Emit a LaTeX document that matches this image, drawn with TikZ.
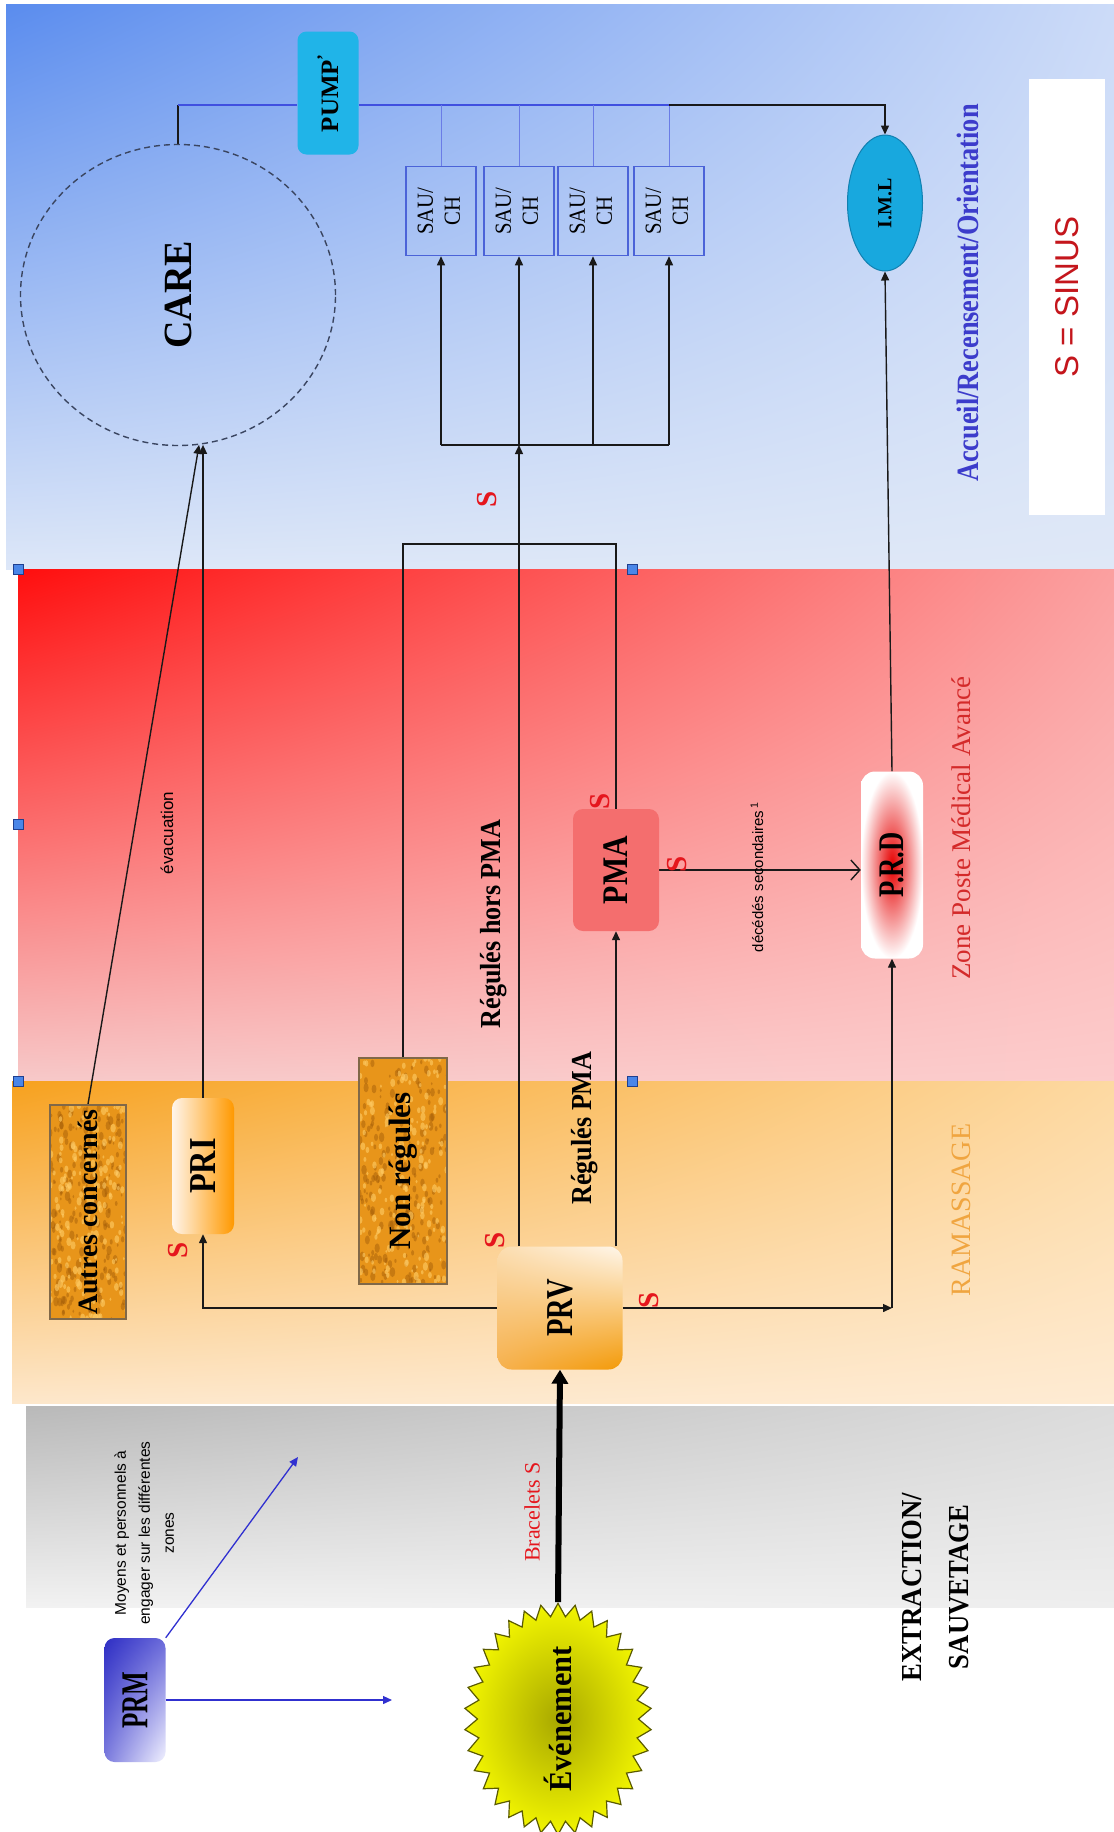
\documentclass[tikz,border=0pt]{standalone}
\usepackage{fontspec}
\setmainfont{Liberation Serif}
\setsansfont{Liberation Sans}
\usetikzlibrary{arrows.meta,shapes.geometric,shapes.symbols,calc,shadings}
\pgfdeclarelayer{bg}
\pgfdeclarelayer{deco}
\pgfdeclarelayer{edges}
\pgfsetlayers{bg,deco,edges,main}
\newcommand{\fsz}[1]{\fontsize{#1}{#1}\selectfont}
\newcommand{\rtx}[2][1]{\rotatebox{90}{\scalebox{#1}[1]{#2}}}
\newcommand{\texfill}[4]{%
  \begin{scope}
  \clip (#1,#2) rectangle (#3,#4);
  \fill[texOrange] (#1,#2) rectangle (#3,#4);
  \foreach \i in {1,...,190}{
    \pgfmathsetmacro{\px}{#1+rnd*(#3-#1)}
    \pgfmathsetmacro{\py}{#2+rnd*(#4-#2)}
    \pgfmathsetmacro{\rr}{1.5+3.5*rnd}
    \fill[texDark, opacity=0.45] (\px,\py) ellipse [x radius=0.55*\rr, y radius=\rr];
  }
  \foreach \i in {1,...,170}{
    \pgfmathsetmacro{\px}{#1+rnd*(#3-#1)}
    \pgfmathsetmacro{\py}{#2+rnd*(#4-#2)}
    \pgfmathsetmacro{\rr}{1.5+3*rnd}
    \fill[texLight, opacity=0.6] (\px,\py) ellipse [x radius=0.6*\rr, y radius=\rr];
  }
  \end{scope}}
\definecolor{blueUL}{HTML}{5A8CEE}
\definecolor{blueUR}{HTML}{CCDBF8}
\definecolor{blueLL}{HTML}{DDE7F8}
\definecolor{blueLR}{HTML}{DFE8F7}
\definecolor{redUL}{HTML}{FF0E0E}
\definecolor{redUR}{HTML}{FBA0A0}
\definecolor{redLL}{HTML}{F7C9C9}
\definecolor{redLR}{HTML}{FCCCCC}
\definecolor{oraUL}{HTML}{F7A11E}
\definecolor{oraUR}{HTML}{FDD9A2}
\definecolor{oraLL}{HTML}{FDE7CB}
\definecolor{oraLR}{HTML}{FEEBD3}
\definecolor{grayUL}{HTML}{B9B9B9}
\definecolor{grayUR}{HTML}{DCDCDC}
\definecolor{grayLL}{HTML}{F2F2F2}
\definecolor{grayLR}{HTML}{EEEEEE}
\definecolor{careGray}{HTML}{3A4560}
\definecolor{pumpCyan}{HTML}{20B4E8}
\definecolor{imlCyan}{HTML}{18A8DE}
\definecolor{imlEdge}{HTML}{1280B0}
\definecolor{sauBlue}{HTML}{4B63D8}
\definecolor{lineBlue}{HTML}{4050E0}
\definecolor{dropBlue}{HTML}{6A7CE6}
\definecolor{arrBlue}{HTML}{3030D0}
\definecolor{texOrange}{HTML}{E8951A}
\definecolor{texDark}{HTML}{A05A08}
\definecolor{texLight}{HTML}{FFCC66}
\definecolor{texBorder}{HTML}{806848}
\definecolor{pmaFill}{HTML}{F46E6E}
\definecolor{prdRed}{HTML}{E60000}
\definecolor{evtDark}{HTML}{A8A800}
\definecolor{evtYellow}{HTML}{F2F500}
\definecolor{evtEdge}{HTML}{5A5A00}
\definecolor{accBlue}{HTML}{3C3CCB}
\definecolor{zoneRed}{HTML}{D42A2A}
\definecolor{ramOrange}{HTML}{F0A540}
\definecolor{sRed}{HTML}{E5161D}
\definecolor{sinusRed}{HTML}{C4161C}
\definecolor{handleBlue}{HTML}{4A86E8}
\definecolor{handleDark}{HTML}{1F3F8F}
\definecolor{prvA}{HTML}{FBDDB0}
\definecolor{prvB}{HTML}{FFF6EA}
\definecolor{prvC}{HTML}{F6B14E}
\definecolor{prvD}{HTML}{F39A08}
\definecolor{prmA}{HTML}{2E2EC4}
\definecolor{prmB}{HTML}{6A6ADA}
\definecolor{prmC}{HTML}{7C7CDE}
\definecolor{prmD}{HTML}{F2F2FF}
\begin{document}
\pgfmathsetseed{7}
\begin{tikzpicture}[x=1pt,y=-1pt,
  conn/.style={draw=black!90, line width=1.4pt},
  arr/.style={conn, -{Triangle[length=9pt,width=8pt]}},
  blueline/.style={draw=lineBlue, line width=1.4pt},
  dropline/.style={draw=dropBlue, line width=1pt},
  bluearr/.style={draw=arrBlue, line width=1.3pt, -{Triangle[length=9pt,width=8pt]}},
  quad/.style n args={4}{shading=bilinear interpolation, upper left=#1, upper right=#2, lower left=#3, lower right=#4},
  sauBox/.style={draw=sauBlue, line width=1.5pt, minimum width=70pt, minimum height=89pt, inner sep=0pt, font=\fontsize{23}{27}\selectfont},
  sLabel/.style={text=sRed, font=\fsz{29}\bfseries, inner sep=0pt},
  handle/.style={draw=handleDark, fill=handleBlue, minimum size=10pt, inner sep=0pt, line width=0.8pt},
  texbox/.style 2 args={draw=texBorder, line width=1.6pt, minimum width=#1pt, minimum height=#2pt, inner sep=0pt}
]
\useasboundingbox (0,0) rectangle (1114,1832);
\begin{pgfonlayer}{bg}
  \fill[white] (0,0) rectangle (1114,1832);
  \shade[quad={blueUL}{blueUR}{blueLL}{blueLR}] (6,4) rectangle (1114,569);
  \shade[quad={redUL}{redUR}{redLL}{redLR}] (18,569) rectangle (1114,1081);
  \shade[quad={oraUL}{oraUR}{oraLL}{oraLR}] (12,1081) rectangle (1114,1403);
  \shade[quad={grayUL}{grayUR}{grayLL}{grayLR}] (26,1406) rectangle (1114,1607);
\end{pgfonlayer}
\begin{pgfonlayer}{deco}
  \texfill{50}{1105}{126}{1319}
  \texfill{359}{1058}{447}{1284}
\end{pgfonlayer}

% ---- nodes
\node[draw=careGray, dash pattern=on 6pt off 4pt, line width=1.4pt, ellipse, minimum width=315pt, minimum height=301pt, inner sep=0pt, font=\fsz{40}\bfseries] (CARE) at (178,295) {\rtx[0.95]{CARE}};
\node[fill=pumpCyan, rounded corners=9pt, minimum width=61pt, minimum height=123pt, inner sep=0pt, font=\fsz{25}\bfseries] (PUMP) at (328,93) {\rtx{PUMP\textsuperscript{’}}};
\node[sauBox] (sau1) at (441,211) {\rtx[0.9]{\begin{tabular}{@{}c@{}}SAU/\\CH\end{tabular}}};
\node[sauBox] (sau2) at (519,211) {\rtx[0.9]{\begin{tabular}{@{}c@{}}SAU/\\CH\end{tabular}}};
\node[sauBox] (sau3) at (593,211) {\rtx[0.9]{\begin{tabular}{@{}c@{}}SAU/\\CH\end{tabular}}};
\node[sauBox] (sau4) at (669,211) {\rtx[0.9]{\begin{tabular}{@{}c@{}}SAU/\\CH\end{tabular}}};
\node[ellipse, fill=imlCyan, draw=imlEdge, line width=1pt, minimum width=75pt, minimum height=136pt, inner sep=0pt, font=\fsz{20}\bfseries] (IML) at (885,203) {\rtx{I.M.L}};
\node[fill=white, minimum width=76pt, minimum height=436pt, inner sep=0pt, font=\sffamily\fsz{33}, text=sinusRed] (legend) at (1067,297) {\rtx{S = SINUS}};

\node[texbox={76}{214}, font=\fsz{28}\bfseries] (Autres) at (88,1212) {\rtx{Autres concernés}};
\node[rounded corners=10pt, left color=white!92!orange, right color=orange!80!yellow, minimum width=62pt, minimum height=136pt, inner sep=0pt, font=\fsz{38}\bfseries] (PRI) at (203,1166) {\rtx[0.85]{PRI}};
\node[texbox={88}{226}, font=\fsz{31}\bfseries] (Nonreg) at (403,1171) {\rtx{Non régulés}};
\node[rounded corners=14pt, quad={prvA}{prvB}{prvC}{prvD}, minimum width=125pt, minimum height=123pt, inner sep=0pt, font=\fsz{38}\bfseries] (PRV) at (560,1308) {\rtx[0.75]{PRV}};
\node[rounded corners=10pt, fill=pmaFill, minimum width=86pt, minimum height=122pt, inner sep=0pt, font=\fsz{36}\bfseries] (PMA) at (616,870) {\rtx[0.83]{PMA}};
\node[rounded corners=14pt, inner color=prdRed, outer color=white, minimum width=62pt, minimum height=187pt, inner sep=0pt, font=\fsz{36}\bfseries] (PRD) at (892,865) {\rtx[0.74]{P.R.D}};
\node[rounded corners=10pt, quad={prmA}{prmB}{prmC}{prmD}, minimum width=61pt, minimum height=124pt, inner sep=0pt, font=\fsz{38}\bfseries] (PRM) at (135,1700) {\rtx[0.66]{PRM}};
\node[starburst, starburst points=34, starburst point height=13pt, random starburst=0, draw=evtEdge, line width=1.2pt, inner color=evtDark, outer color=evtYellow, minimum width=187pt, minimum height=228pt, inner sep=0pt, font=\fsz{32}\bfseries] (Evt) at (558,1719) {\rtx[0.95]{Événement}};

% ---- selection handles
\node[handle] (h1) at (18,569) {};
\node[handle] (h2) at (18,824) {};
\node[handle] (h3) at (18,1081) {};
\node[handle] (h4) at (632,569) {};
\node[handle] (h5) at (632,1081) {};

% ---- S labels
\node[sLabel] (s1) at (487,499) {\rtx{S}};
\node[sLabel] (s2) at (600,801) {\rtx{S}};
\node[sLabel] (s3) at (677,864) {\rtx{S}};
\node[sLabel] (s4) at (178,1250) {\rtx{S}};
\node[sLabel] (s5) at (495,1240) {\rtx{S}};
\node[sLabel] (s6) at (649,1300) {\rtx{S}};

% ---- texts
\node[font=\fsz{31}\bfseries, text=accBlue] (tAcc) at (968,293) {\rtx[0.85]{Accueil/Recensement/Orientation}};
\node[font=\fsz{27}, text=zoneRed] (tZone) at (961,828) {\rtx{Zone Poste Médical Avancé}};
\node[font=\fsz{28}, text=ramOrange] (tRam) at (961,1210) {\rtx{RAMASSAGE}};
\node[font=\fontsize{29}{47}\selectfont\bfseries] (tExt) at (936,1587) {\rtx[0.92]{\begin{tabular}{@{}c@{}}EXTRACTION/\\SAUVETAGE\end{tabular}}};
\node[font=\fsz{29}\bfseries] (tRhp) at (494,924) {\rtx[0.9]{Régulés hors PMA}};
\node[font=\fsz{29}\bfseries] (tRp) at (585,1128) {\rtx[0.9]{Régulés PMA}};
\node[font=\sffamily\fsz{17}] (tEvac) at (167,833) {\rtx{évacuation}};
\node[font=\sffamily\fsz{15}] (tDec) at (757,877) {\rtx{décédés secondaires\,\textsuperscript{1}}};
\node[font=\sffamily\fontsize{15.5}{24}\selectfont] (tMoy) at (145,1533) {\rtx{\begin{tabular}{@{}c@{}}Moyens et personnels à\\engager sur les différentes\\zones\end{tabular}}};
\node[font=\fsz{22}, text=sRed] (tBra) at (532,1512) {\rtx{Bracelets S}};

% ---- connectors
\coordinate (busT) at (0,105);
\coordinate (busB) at (0,445);
\coordinate (nrY) at (0,544);
\coordinate (prmH) at (392,1700);
\coordinate (prmD) at (298,1457);
\begin{pgfonlayer}{edges}
  \draw[conn] (CARE.north) -- (CARE.north |- busT);
  \draw[blueline] (CARE.north |- busT) -- (PUMP.west |- busT);
  \draw[blueline] (PUMP.east |- busT) -- (sau4.north |- busT);
  \foreach \s in {sau1,sau2,sau3,sau4} \draw[dropline] (\s.north |- busT) -- (\s.north);
  \draw[arr] (sau4.north |- busT) -- (IML.north |- busT) -- (IML.north);

  \draw[conn] (sau1.south |- busB) -- (sau4.south |- busB);
  \draw[arr] (sau1.south |- busB) -- (sau1.south);
  \draw[arr] (sau3.south |- busB) -- (sau3.south);
  \draw[arr] (sau4.south |- busB) -- (sau4.south);
  \draw[arr] (PRV.north -| sau2.south) -- (sau2.south |- busB);
  \draw[arr] (sau2.south |- busB) -- (sau2.south);

  \draw[conn] (Nonreg.north) -- (Nonreg.north |- nrY) -- (PMA.north |- nrY) -- (PMA.north);

  \draw[arr] (Autres.north) -- (CARE.-82);
  \draw[arr] (PRI.north) -- (PRI.north |- CARE.-82);

  \draw[arr] (PRV.west) -- (PRV.west -| PRI.south) -- (PRI.south);
  \draw[arr] (PRV.north -| PMA.south) -- (PMA.south);
  \draw[arr] (PRV.east) -- (PRV.east -| PRD.south);
  \draw[arr] (PRV.east -| PRD.south) -- (PRD.south);
  \draw[arr] (PRD.north) -- (IML.south);
  \draw[conn, -{Straight Barb[length=9pt,width=20pt]}] (PMA.east) -- (PMA.east -| PRD.west);

  \draw[bluearr] (PRM.east) -- (prmH);
  \draw[bluearr] (PRM.north east) -- (prmD);
  \draw[line width=6pt, -{Triangle[length=14pt,width=16pt]}] (Evt.north) -- (PRV.south);
\end{pgfonlayer}
\end{tikzpicture}
\end{document}
